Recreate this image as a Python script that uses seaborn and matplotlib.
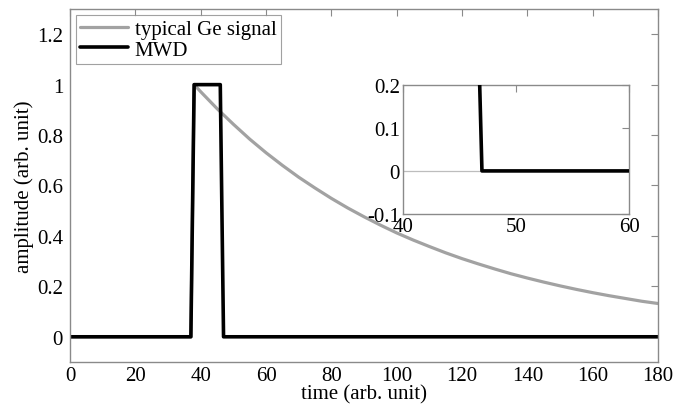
import matplotlib
matplotlib.use("Agg")
import matplotlib.pyplot as plt
import seaborn as sns
import pandas as pd

# ---- data ----
mwd_t = [0, 37, 38, 46, 47, 180]
mwd_a = [0, 0, 1.0, 1.0, 0, 0]

ge_t = [0, 37, 38, 40, 45, 50, 55, 60, 65, 70, 75, 80, 85, 90, 95, 100, 105,
        110, 115, 120, 125, 130, 135, 140, 145, 150, 155, 160, 165, 170, 175, 180]
ge_a = [0, 0, 1.0, 0.972, 0.905, 0.843, 0.784, 0.730, 0.680, 0.633, 0.590,
        0.549, 0.511, 0.476, 0.443, 0.412, 0.384, 0.358, 0.333, 0.310, 0.289,
        0.269, 0.250, 0.233, 0.217, 0.202, 0.188, 0.175, 0.163, 0.152, 0.141, 0.132]

x_ticks = [0, 20, 40, 60, 80, 100, 120, 140, 160, 180]
y_ticks = [0, 0.2, 0.4, 0.6, 0.8, 1.0, 1.2]
y_ticklabels = ["0", "0.2", "0.4", "0.6", "0.8", "1", "1.2"]

in_x_ticks = [40, 50, 60]
in_y_ticks = [-0.1, 0, 0.1, 0.2]
in_y_ticklabels = ["-0.1", "0", "0.1", "0.2"]

sns.set_theme(style="white")
plt.rcParams["font.family"] = ["Liberation Serif", "DejaVu Serif"]
plt.rcParams["text.color"] = "black"
plt.rcParams["axes.labelcolor"] = "black"
plt.rcParams["xtick.labelcolor"] = "black"
plt.rcParams["ytick.labelcolor"] = "black"

GE_COLOR = "#a2a2a2"
SPINE = "#8a8a8a"
FS = 15

ge_df = pd.DataFrame({"t": ge_t, "a": ge_a})
mwd_df = pd.DataFrame({"t": mwd_t, "a": mwd_a})

fig = plt.figure(figsize=(6.79, 4.06), dpi=100)
ax = fig.add_axes([0.1031, 0.1059, 0.866, 0.8695])

sns.lineplot(data=ge_df, x="t", y="a", ax=ax, color=GE_COLOR, lw=2.3,
             estimator=None, sort=False, label="typical Ge signal")
sns.lineplot(data=mwd_df, x="t", y="a", ax=ax, color="black", lw=2.6,
             estimator=None, sort=False, label="MWD")

ax.set_xlim(0, 180)
ax.set_ylim(-0.1, 1.3)
ax.set_xticks(x_ticks)
ax.set_xticklabels([str(v) for v in x_ticks])
ax.set_yticks(y_ticks)
ax.set_yticklabels(y_ticklabels)

def style_axes(a, fs):
    for s in a.spines.values():
        s.set_color(SPINE)
        s.set_linewidth(1.0)
    a.tick_params(direction="in", length=5, width=0.8, color=SPINE,
                  top=True, right=True, labelsize=fs, pad=5,
                  labelcolor="black")

style_axes(ax, FS)
ax.tick_params(axis="x", pad=3)
ax.set_xlabel("time (arb. unit)", fontsize=FS, labelpad=-0.5)
ax.set_ylabel("amplitude (arb. unit)", fontsize=FS, labelpad=2)

leg = ax.legend(loc="upper left", fontsize=FS, frameon=True, fancybox=False,
                edgecolor=SPINE, borderpad=0.2, labelspacing=0.05,
                handlelength=2.3, handletextpad=0.3, borderaxespad=0.3)
leg.get_frame().set_linewidth(0.8)
for t in leg.get_texts():
    t.set_color("black")

# ---- inset ----
axin = fig.add_axes([0.593, 0.4704, 0.3337, 0.3185])
axin.axhline(0, color="#bdbdbd", lw=0.9, zorder=1)
sns.lineplot(data=mwd_df, x="t", y="a", ax=axin, color="black", lw=2.6,
             estimator=None, sort=False, legend=False, zorder=3)
axin.set_xlim(40, 60)
axin.set_ylim(-0.1, 0.2)
axin.set_xticks(in_x_ticks)
axin.set_xticklabels([str(v) for v in in_x_ticks])
axin.set_yticks(in_y_ticks)
axin.set_yticklabels(in_y_ticklabels)
axin.set_xlabel("")
axin.set_ylabel("")
style_axes(axin, FS)
axin.tick_params(pad=2)

fig.savefig("out.png", dpi=100)
